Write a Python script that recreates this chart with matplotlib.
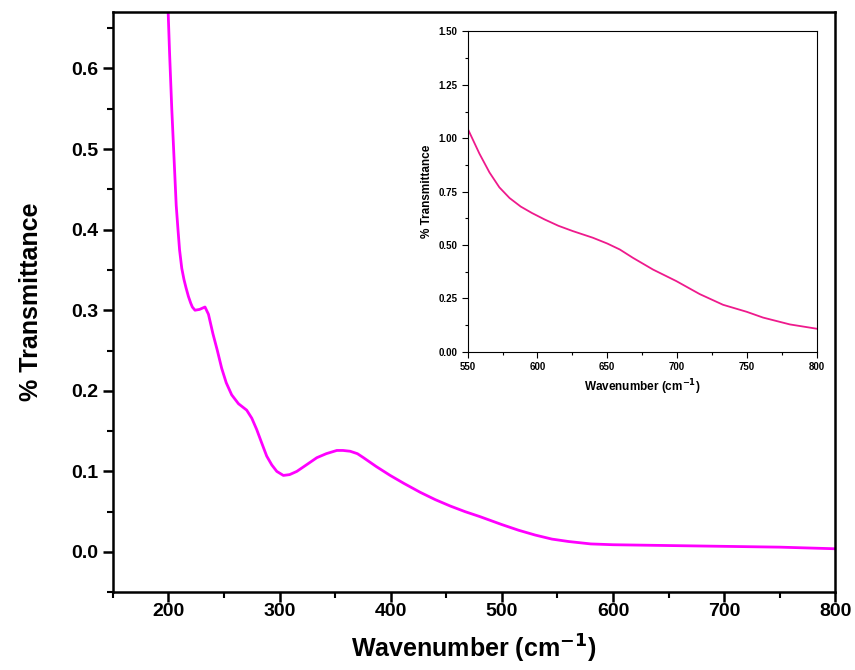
import matplotlib
matplotlib.use('Agg')
import matplotlib.pyplot as plt
import numpy as np
from matplotlib.ticker import MultipleLocator

plt.rcParams['font.family'] = ['Liberation Sans', 'DejaVu Sans']
plt.rcParams['font.weight'] = 'bold'
plt.rcParams['mathtext.default'] = 'bf'

# Hauptspektrum
wn_main = [199.5, 201, 203, 205, 207, 208.6, 210, 212, 214, 215.8, 218, 220, 221.5, 223.9, 228, 232.9, 236, 240, 244, 247.9, 252,
           256.9, 263, 270.4, 275, 279.4, 284, 288.4, 293, 297.5, 303.4, 309, 315.5, 324, 333.5, 342,
           351.5, 357, 363.5, 370, 375.5, 387, 399.5, 412, 426.6, 440, 453.6, 467, 480, 500, 515, 530,
           545, 560, 580, 600, 650, 700, 750, 800]
tr_main = [0.68, 0.62, 0.55, 0.49, 0.43, 0.40, 0.375, 0.352, 0.338, 0.328, 0.317, 0.309, 0.304, 0.300, 0.301, 0.304, 0.295, 0.271, 0.250, 0.228, 0.210,
           0.195, 0.184, 0.176, 0.166, 0.152, 0.135, 0.119, 0.108, 0.100, 0.095, 0.096, 0.100, 0.108, 0.117, 0.122,
           0.126, 0.126, 0.125, 0.122, 0.117, 0.106, 0.095, 0.085, 0.074, 0.065, 0.057, 0.050, 0.044, 0.034, 0.027, 0.021,
           0.016, 0.013, 0.010, 0.009, 0.008, 0.007, 0.006, 0.004]

# Inset
wn_inset = [550, 558.4, 565.6, 572.7, 580, 588, 596, 605, 615, 625.4, 639.7, 650, 659, 668.4, 682.8, 699.5, 716.3,
            733, 750, 761.7, 780.9, 800]
tr_inset = [1.045, 0.928, 0.84, 0.77, 0.72, 0.68, 0.65, 0.62, 0.59, 0.565, 0.534, 0.507, 0.479, 0.44, 0.385, 0.331, 0.27,
            0.22, 0.187, 0.16, 0.128, 0.108]

fig = plt.figure(figsize=(8.55, 6.7), dpi=100)
ax = fig.add_axes([0.132, 0.116, 0.845, 0.866])
ax.plot(wn_main, tr_main, color='#ff00ff', lw=2)
ax.set_xlim(150, 800)
ax.set_ylim(-0.05, 0.67)
ax.xaxis.set_major_locator(MultipleLocator(100))
ax.xaxis.set_minor_locator(MultipleLocator(50))
ax.yaxis.set_major_locator(MultipleLocator(0.1))
ax.yaxis.set_minor_locator(MultipleLocator(0.05))
ax.yaxis.set_major_formatter(matplotlib.ticker.FormatStrFormatter('%.1f'))
ax.tick_params(which='major', direction='out', length=7, width=1.8, labelsize=14)
ax.tick_params(which='minor', direction='out', length=4, width=1.5)
ax.tick_params(axis='x', pad=1)
for s in ax.spines.values():
    s.set_linewidth(1.8)
ax.set_xlabel('Wavenumber (cm$^{-1}$)', fontsize=18, fontweight='bold', labelpad=9)
ax.set_ylabel('% Transmittance', fontsize=18, fontweight='bold', labelpad=20)

ins = fig.add_axes([0.547, 0.475, 0.408, 0.478])
ins.plot(wn_inset, tr_inset, color='#ee1a8c', lw=1.3)
ins.set_xlim(550, 800)
ins.set_ylim(0, 1.5)
ins.xaxis.set_major_locator(MultipleLocator(50))
ins.xaxis.set_minor_locator(MultipleLocator(25))
ins.yaxis.set_major_locator(MultipleLocator(0.25))
ins.yaxis.set_minor_locator(MultipleLocator(0.125))
ins.yaxis.set_major_formatter(matplotlib.ticker.FormatStrFormatter('%.2f'))
ins.tick_params(which='major', direction='out', length=4, width=0.8, labelsize=7)
ins.tick_params(which='minor', direction='out', length=2.5, width=0.8)
for s in ins.spines.values():
    s.set_linewidth(0.8)
ins.set_xlabel('Wavenumber (cm$^{-1}$)', fontsize=8.5, fontweight='bold')
ins.set_ylabel('% Transmittance', fontsize=8.5, fontweight='bold')

fig.savefig('out.png', dpi=100)
